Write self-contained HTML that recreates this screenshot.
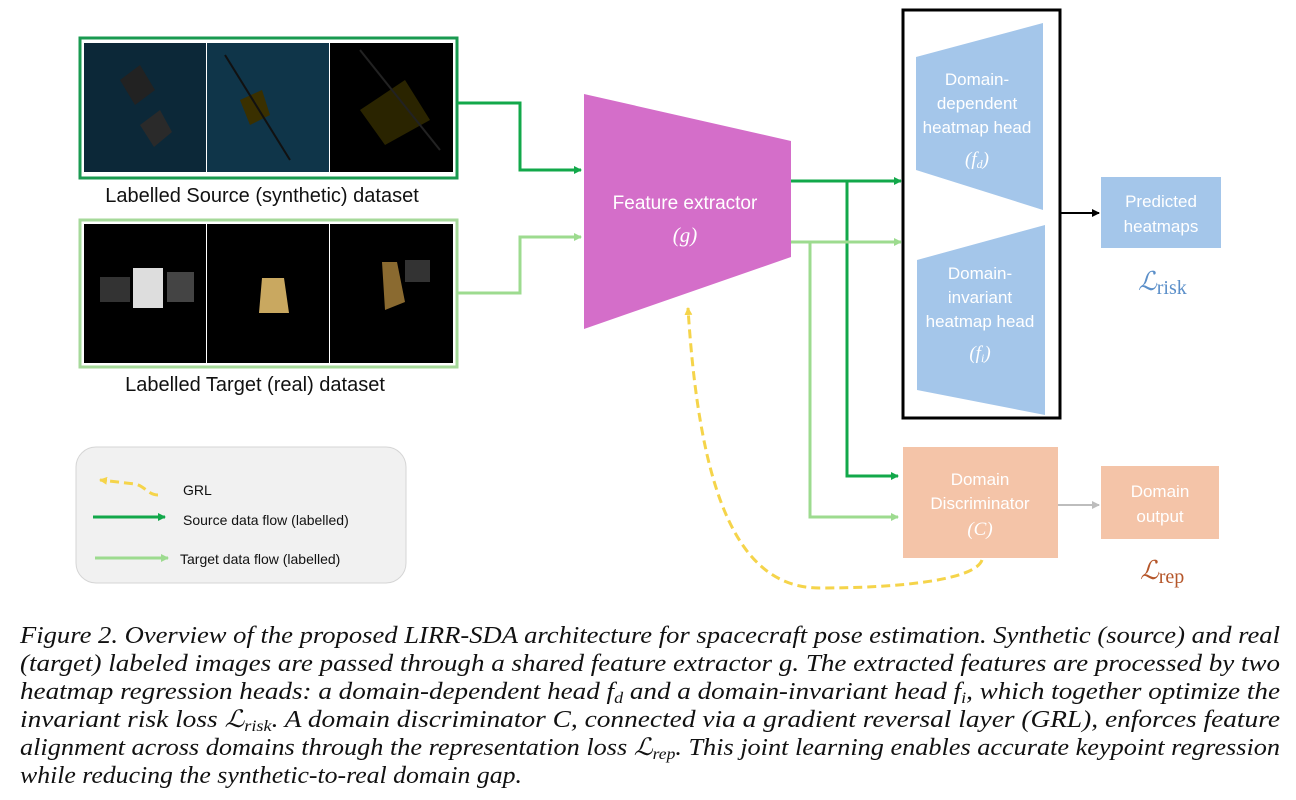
<!DOCTYPE html>
<html><head><meta charset="utf-8"><style>
body{margin:0;background:#fff;}
svg{display:block;}
.s{font-family:"Liberation Sans",sans-serif;}
.c{font-family:"Liberation Serif",serif;font-style:italic;font-size:24px;fill:#111;}
</style></head><body>
<svg width="1296" height="800" viewBox="0 0 1296 800" xmlns="http://www.w3.org/2000/svg">
<defs>
<marker id="ag" markerWidth="8" markerHeight="8" refX="7" refY="4" orient="auto" markerUnits="userSpaceOnUse"><path d="M0,0 L8,4 L0,8z" fill="#12a84a"/></marker>
<marker id="al" markerWidth="8" markerHeight="8" refX="7" refY="4" orient="auto" markerUnits="userSpaceOnUse"><path d="M0,0 L8,4 L0,8z" fill="#9ddb8f"/></marker>
<marker id="ak" markerWidth="8" markerHeight="8" refX="7" refY="4" orient="auto" markerUnits="userSpaceOnUse"><path d="M0,0 L8,4 L0,8z" fill="#000"/></marker>
<marker id="ay" markerWidth="8" markerHeight="8" refX="7" refY="4" orient="auto" markerUnits="userSpaceOnUse"><path d="M0,0 L8,4 L0,8z" fill="#f5d44a"/></marker>
<marker id="ah" markerWidth="8" markerHeight="8" refX="7" refY="4" orient="auto" markerUnits="userSpaceOnUse"><path d="M0,0 L8,4 L0,8z" fill="#bdbdbd"/></marker>
</defs>
<!-- source images -->
<rect x="80" y="38" width="377" height="140" fill="none" stroke="#1a9a50" stroke-width="3"/>
<rect x="84" y="43" width="122" height="129" fill="#0c2838"/>
<rect x="207" y="43" width="122" height="129" fill="#0f3549"/>
<rect x="330" y="43" width="123" height="129" fill="#000"/>
<path d="M120,80 l20,-15 l15,25 l-20,15z" fill="#222"/>
<path d="M140,125 l20,-15 l12,22 l-18,15z" fill="#2a2a2a"/>
<path d="M240,100 l22,-10 l8,25 l-20,10z" fill="#3a3000"/>
<line x1="225" y1="55" x2="290" y2="160" stroke="#111" stroke-width="2"/>
<path d="M360,110 l45,-30 l25,40 l-45,25z" fill="#2a2400"/>
<line x1="360" y1="50" x2="440" y2="150" stroke="#222" stroke-width="2"/>
<!-- target images -->
<rect x="80" y="220" width="377" height="147" fill="none" stroke="#a6d99a" stroke-width="3"/>
<rect x="84" y="224" width="122" height="139" fill="#000"/>
<rect x="207" y="224" width="122" height="139" fill="#000"/>
<rect x="330" y="224" width="123" height="139" fill="#000"/>
<rect x="133" y="268" width="30" height="40" fill="#ddd"/>
<rect x="100" y="277" width="30" height="25" fill="#333"/>
<rect x="167" y="272" width="27" height="30" fill="#444"/>
<path d="M262,278 l22,0 l5,35 l-30,0z" fill="#c9a860"/>
<path d="M382,262 l15,0 l8,40 l-20,8z" fill="#8a6a30"/>
<rect x="405" y="260" width="25" height="22" fill="#333"/>
<text class="s" x="262" y="202" font-size="20" text-anchor="middle" fill="#111">Labelled Source (synthetic) dataset</text>
<text class="s" x="255" y="391" font-size="20" text-anchor="middle" fill="#111">Labelled Target (real) dataset</text>
<!-- input arrows -->
<polyline points="457,103 520,103 520,170 581,170" fill="none" stroke="#12a84a" stroke-width="3" marker-end="url(#ag)"/>
<polyline points="457,293 520,293 520,237 581,237" fill="none" stroke="#9ddb8f" stroke-width="3" marker-end="url(#al)"/>
<!-- feature extractor -->
<polygon points="584,94 791,141 791,257 584,329" fill="#d46ec9"/>
<text class="s" x="685" y="209" font-size="19" fill="#fff" text-anchor="middle">Feature extractor</text>
<text x="685" y="242" font-size="21" fill="#fff" text-anchor="middle" font-family="Liberation Serif,serif" font-style="italic">(g)</text>
<!-- heads box -->
<rect x="903" y="10" width="157" height="408" fill="none" stroke="#000" stroke-width="3"/>
<polygon points="916,57 1043,23 1043,210 916,170" fill="#a4c6ea"/>
<polygon points="917,260 1045,225 1045,415 917,390" fill="#a4c6ea"/>
<g class="s" font-size="17" fill="#fff" text-anchor="middle">
<text x="977" y="85">Domain-</text>
<text x="977" y="109">dependent</text>
<text x="977" y="133">heatmap head</text>
<text x="977" y="165" font-family="Liberation Serif,serif" font-style="italic" font-size="19">(f<tspan font-size="12" dy="3">d</tspan><tspan dy="-3">)</tspan></text>
<text x="980" y="279">Domain-</text>
<text x="980" y="303">invariant</text>
<text x="980" y="327">heatmap head</text>
<text x="980" y="359" font-family="Liberation Serif,serif" font-style="italic" font-size="19">(f<tspan font-size="12" dy="3">i</tspan><tspan dy="-3">)</tspan></text>
</g>
<!-- arrows from extractor -->
<line x1="791" y1="181" x2="901" y2="181" stroke="#12a84a" stroke-width="3" marker-end="url(#ag)"/>
<polyline points="847,181 847,476 898,476" fill="none" stroke="#12a84a" stroke-width="3" marker-end="url(#ag)"/>
<line x1="791" y1="242" x2="901" y2="242" stroke="#9ddb8f" stroke-width="3" marker-end="url(#al)"/>
<polyline points="810,242 810,517 898,517" fill="none" stroke="#9ddb8f" stroke-width="3" marker-end="url(#al)"/>
<line x1="1060" y1="213" x2="1099" y2="213" stroke="#000" stroke-width="2" marker-end="url(#ak)"/>
<!-- predicted -->
<rect x="1101" y="177" width="120" height="71" fill="#a4c6ea"/>
<text class="s" x="1161" y="207" font-size="17" fill="#fff" text-anchor="middle">Predicted</text>
<text class="s" x="1161" y="232" font-size="17" fill="#fff" text-anchor="middle">heatmaps</text>
<text x="1138" y="290" font-size="26" fill="#5b8fc9" font-family="Liberation Serif,serif" font-style="italic">ℒ<tspan font-style="normal" font-size="20" dy="4">risk</tspan></text>
<!-- discriminator -->
<rect x="903" y="447" width="155" height="111" fill="#f4c4a8"/>
<rect x="1101" y="466" width="118" height="73" fill="#f4c4a8"/>
<line x1="1058" y1="505" x2="1099" y2="505" stroke="#bdbdbd" stroke-width="2" marker-end="url(#ah)"/>
<g class="s" font-size="17" fill="#fff" text-anchor="middle">
<text x="980" y="485">Domain</text>
<text x="980" y="509">Discriminator</text>
<text x="980" y="535" font-family="Liberation Serif,serif" font-style="italic" font-size="19">(C)</text>
<text x="1160" y="497">Domain</text>
<text x="1160" y="522">output</text>
</g>
<text x="1140" y="579" font-size="26" fill="#b5562a" font-family="Liberation Serif,serif" font-style="italic">ℒ<tspan font-style="normal" font-size="20" dy="4">rep</tspan></text>
<!-- GRL -->
<path d="M982,560 C975,580 900,588 820,588 C740,588 700,500 688,308" fill="none" stroke="#f5d44a" stroke-width="3" stroke-dasharray="9,5" marker-end="url(#ay)"/>
<!-- legend -->
<rect x="76" y="447" width="330" height="136" rx="20" fill="#f1f1f1" stroke="#d5d5d5"/>
<path d="M158,495 C148,495 145,486 135,484 L100,480" fill="none" stroke="#f5d44a" stroke-width="3" stroke-dasharray="9,5" marker-end="url(#ay)"/>
<text class="s" x="183" y="495" font-size="14" fill="#111">GRL</text>
<line x1="93" y1="517" x2="165" y2="517" stroke="#12a84a" stroke-width="3" marker-end="url(#ag)"/>
<text class="s" x="183" y="525" font-size="14" fill="#111">Source data flow (labelled)</text>
<line x1="95" y1="558" x2="168" y2="558" stroke="#9ddb8f" stroke-width="3" marker-end="url(#al)"/>
<text class="s" x="180" y="564" font-size="14" fill="#111">Target data flow (labelled)</text>
<!-- caption -->
<text class="c" x="20" y="643" textLength="1260" lengthAdjust="spacingAndGlyphs">Figure 2. Overview of the proposed LIRR-SDA architecture for spacecraft pose estimation. Synthetic (source) and real</text>
<text class="c" x="20" y="671" textLength="1260" lengthAdjust="spacingAndGlyphs">(target) labeled images are passed through a shared feature extractor g. The extracted features are processed by two</text>
<text class="c" x="20" y="699" textLength="1260" lengthAdjust="spacingAndGlyphs">heatmap regression heads: a domain-dependent head f<tspan font-size="16" dy="4">d</tspan><tspan dy="-4"> and a domain-invariant head f</tspan><tspan font-size="16" dy="4">i</tspan><tspan dy="-4">, which together optimize the</tspan></text>
<text class="c" x="20" y="727" textLength="1260" lengthAdjust="spacingAndGlyphs">invariant risk loss ℒ<tspan font-size="16" dy="4">risk</tspan><tspan dy="-4">. A domain discriminator C, connected via a gradient reversal layer (GRL), enforces feature</tspan></text>
<text class="c" x="20" y="755" textLength="1260" lengthAdjust="spacingAndGlyphs">alignment across domains through the representation loss ℒ<tspan font-size="16" dy="4">rep</tspan><tspan dy="-4">. This joint learning enables accurate keypoint regression</tspan></text>
<text class="c" x="20" y="783" textLength="502" lengthAdjust="spacingAndGlyphs">while reducing the synthetic-to-real domain gap.</text>
</svg>
</body></html>
